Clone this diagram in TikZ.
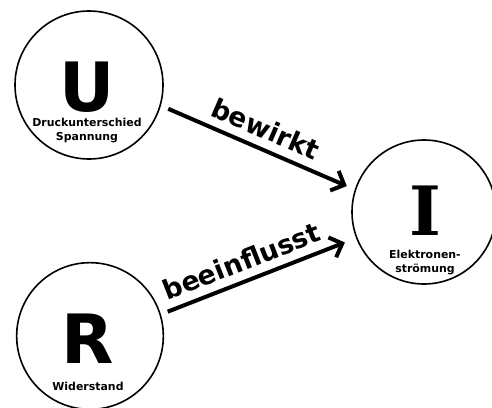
\documentclass[tikz,border=0pt]{standalone}
\usepackage{fontspec}
\setmainfont{DejaVu Sans}
\newfontfamily\slabfont{DejaVu Serif}
\usetikzlibrary{arrows.meta}

\begin{document}
\begin{tikzpicture}[x=0.75pt,y=-0.75pt]
\tikzstyle{bigcircle} = [circle, draw, line width = 1.2pt, minimum size = 111pt, inner sep = 0pt]
\tikzstyle{bigletter} = [font = \fontsize{51}{51}\selectfont\bfseries, inner sep = 0pt]
\tikzstyle{smalltext} = [font = \fontsize{8.2}{10.5}\selectfont\bfseries, align = center, inner sep = 0pt, anchor = north]
\tikzstyle{relarrow} = [line width = 3pt, -{Straight Barb[length = 8pt, width = 16pt]}]
\tikzset{rellabel/.style = {font = \fontsize{20}{20}\selectfont\bfseries, inner sep = 0pt, sloped}}
\useasboundingbox (0,0) rectangle (492,407);

\node [bigcircle] (U) at (89,85) {};
\node [bigcircle, minimum size = 108pt] (I) at (424,212) {};
\node [bigcircle, minimum size = 110pt] (R) at (90,336) {};

\node [bigletter] (Uletter) at (87,87) {U};
\node [bigletter, font = \fontsize{51}{51}\slabfont\bfseries] (Iletter) at (425,211) {I};
\node [bigletter] (Rletter) at (88,339) {R};

\node [smalltext] (Utext) at (87,118) {Druckunterschied\\Spannung};
\node [smalltext] (Itext) at (425,250) {Elektronen-\\strömung};
\node [smalltext] (Rtext) at (88,382) {Widerstand};

\draw [relarrow, shorten <= 6pt, shorten >= 6.5pt] (U.-16) -- node [rellabel, above = 6pt] {bewirkt} (I.162);
\draw [relarrow, shorten <= 5.5pt, shorten >= 9pt] (R.17) -- node [rellabel, pos = 0.45, above = 6pt] {beeinflusst} (I.201);
\end{tikzpicture}
\end{document}
